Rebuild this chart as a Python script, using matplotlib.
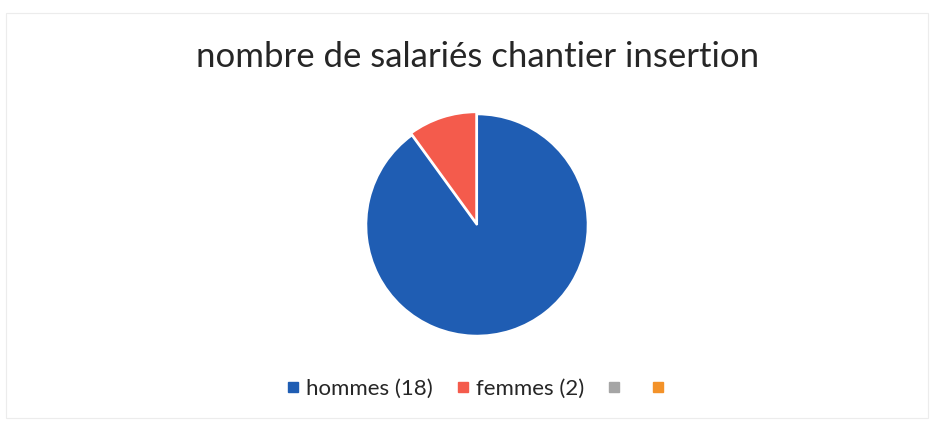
import numpy as np
import matplotlib
matplotlib.use("Agg")
import matplotlib.pyplot as plt
from matplotlib.lines import Line2D
from matplotlib.patches import Rectangle

plt.rcParams['font.family'] = ['Lato', 'DejaVu Sans']

# data
labels = ["hommes (18)", "femmes (2)", "", ""]
values = [18, 2, 0, 0]
colors = ["#1F5DB3", "#F45B4C", "#A5A5A5", "#F39229"]

fig = plt.figure(figsize=(9.36, 4.23), dpi=100)
fig.patch.set_facecolor("white")

# faint chart frame
fig.add_artist(Rectangle((6/936, 1 - 418/423), 922/936, 405/423,
                         transform=fig.transFigure, fill=False,
                         edgecolor="#ececec", linewidth=0.8))

fig.text(478/936, 1 - 57/423, "nombre de salariés chantier insertion",
         ha="center", va="center", fontsize=25, color="#262626")

ax = fig.add_axes([(477 - 113)/936, (423 - 338)/423, 226/936, 226/423])
vals = [v for v in values if v > 0]
cols = colors[:len(vals)]
ax.pie(vals, colors=cols, startangle=90, counterclock=False,
       explode=[0, 0.02], radius=1,
       wedgeprops=dict(edgecolor="white", linewidth=1.5))
ax.set_xlim(-1.02, 1.02)
ax.set_ylim(-1.02, 1.02)
ax.set_aspect("equal")
ax.axis("off")

handles = [Line2D([], [], marker="s", linestyle="none", markersize=6.5,
                  markerfacecolor=c, markeredgecolor=c) for c in colors]
leg = fig.legend(handles, labels, loc="center", ncol=4,
                 bbox_to_anchor=(479/936, 1 - 389/423), frameon=False,
                 fontsize=16, handlelength=0.5, handletextpad=0.35,
                 columnspacing=1.1, labelcolor="#262626")

fig.savefig("out.png", dpi=100)
